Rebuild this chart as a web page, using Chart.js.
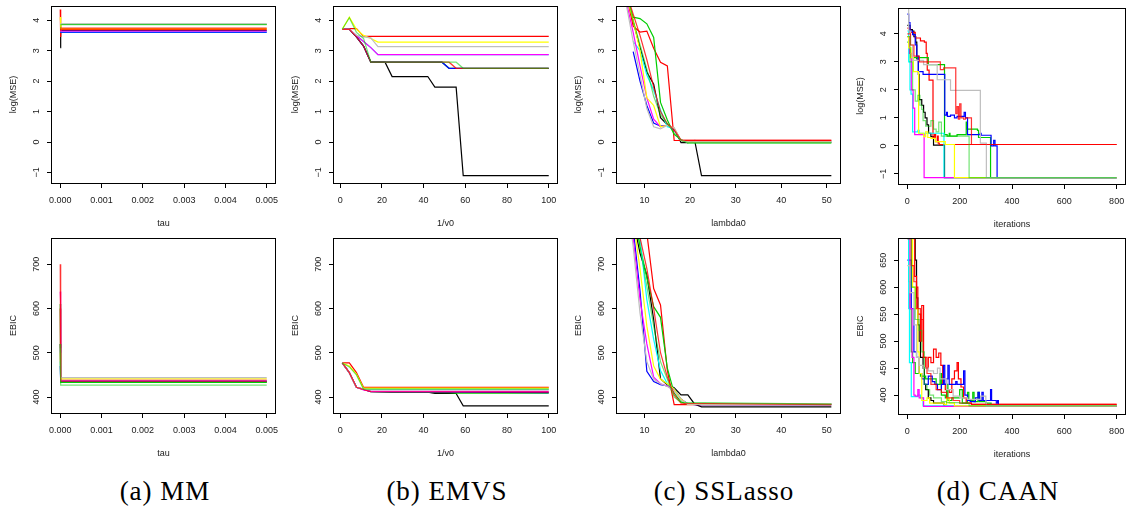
<!DOCTYPE html>
<html><head><meta charset="utf-8">
<script src="https://cdn.jsdelivr.net/npm/chart.js@4.4.1/dist/chart.umd.min.js"></script>
<style>
html,body{margin:0;padding:0;background:#fff;width:1127px;height:510px;overflow:hidden;position:relative}
.cap{position:absolute;top:476px;font-family:"Liberation Serif","DejaVu Serif",serif;font-size:27px;color:#000;white-space:nowrap;transform:translateX(-50%);letter-spacing:1px}
</style></head>
<body>
<div class="cap" style="left:165px">(a) MM</div>
<div class="cap" style="left:447px">(b) EMVS</div>
<div class="cap" style="left:724px">(c) SSLasso</div>
<div class="cap" style="left:998px">(d) CAAN</div>
<script>
// ---------- data ----------
// series colour order: black, red, green3, blue, cyan, magenta, yellow, gray, light red, light green
const COLORS = ['#000000','#FF0000','#00CD00','#0000FF','#00FFFF','#FF00FF','#FFFF00','#BEBEBE','rgba(255,0,0,0.8)','rgba(0,205,0,0.55)'];

const X_TICKS_TAU = [0,0.001,0.002,0.003,0.004,0.005];
const X_TICKS_V0 = [0,20,40,60,80,100];
const X_TICKS_LAMBDA = [10,20,30,40,50];
const X_TICKS_ITER = [0,200,400,600,800];
const Y_TICKS_MSE = [-1,0,1,2,3,4];
const Y_TICKS_EBIC = [400,500,600,700];
const Y_TICKS_EBIC_CAAN = [400,450,500,550,600,650];

const TAU = [0, 0.00001, 0.00002, 0.005];
const MM_MSE = [
  [3.10,3.66,3.66,3.66],
  [4.35,3.45,3.70,3.70],
  [3.72,3.86,3.86,3.86],
  [3.60,3.60,3.60,3.60],
  [3.62,3.62,3.62,3.62],
  [3.64,3.64,3.64,3.64],
  [4.10,3.90,3.72,3.72],
  [3.88,3.88,3.88,3.88],
  [3.74,3.74,3.74,3.74],
  [3.85,3.85,3.85,3.85]
];
const MM_EBIC = [
  [520,434,434,434],
  [600,435,435,435],
  [610,433,433,433],
  [470,436,436,436],
  [480,437,437,437],
  [638,611,438,438],
  [500,441,441,441],
  [510,444,444,444],
  [700,436,436,436],
  [520,427,427,427]
];

const EMVS_MSE = [
  [[1,3.7],[4.4,3.7],[7.8,3.45],[11.2,3.15],[14.7,2.62],[21.5,2.62],[24.9,2.15],[42,2.15],[45.4,1.8],[55.6,1.8],[59,-1.1],[100,-1.1]],
  [[1,3.72],[4.4,3.72],[7.8,3.72],[11.2,3.47],[100,3.47]],
  [[1,3.7],[4.4,3.7],[7.8,3.45],[11.2,3.15],[14.7,2.62],[48.8,2.62],[52.2,2.42],[100,2.42]],
  [[1,3.7],[4.4,3.7],[7.8,3.45],[11.2,3.15],[14.7,2.62],[48.8,2.62],[52.2,2.42],[100,2.42]],
  [[1,3.7],[4.4,3.7],[7.8,3.5],[11.2,3.3],[14.7,3.1],[18.1,2.87],[100,2.87]],
  [[1,3.7],[4.4,3.7],[7.8,3.5],[11.2,3.3],[14.7,3.1],[18.1,2.87],[100,2.87]],
  [[1,3.7],[4.4,4.1],[7.8,3.7],[11.2,3.5],[14.7,3.4],[18.1,3.28],[100,3.28]],
  [[1,3.7],[4.4,3.7],[7.8,3.5],[11.2,3.45],[14.7,3.42],[18.1,3.13],[100,3.13]],
  [[1,3.7],[4.4,3.7],[7.8,3.45],[11.2,3.15],[14.7,2.62],[52.2,2.62],[55.6,2.42],[100,2.42]],
  [[1,3.7],[4.4,4.08],[7.8,3.6],[11.2,3.4],[14.7,2.62],[55.6,2.62],[59,2.42],[100,2.42]]
];
const EMVS_EBIC = [
  [[1,477],[4.4,455],[7.8,422],[11.2,418],[14.7,413],[24.9,411],[42,411],[45.4,408],[55.6,408],[59,380],[100,380]],
  [[1,477],[4.4,477],[7.8,455],[11.2,422],[100,422]],
  [[1,477],[4.4,455],[7.8,422],[11.2,417],[14.7,412],[52.2,410],[55.6,409],[100,409]],
  [[1,477],[4.4,455],[7.8,422],[11.2,417],[14.7,412],[100,410]],
  [[1,477],[4.4,455],[7.8,422],[11.2,418],[100,418]],
  [[1,477],[4.4,455],[7.8,422],[11.2,416],[14.7,413],[100,413]],
  [[1,477],[4.4,470],[7.8,452],[11.2,420],[100,420]],
  [[1,477],[4.4,455],[7.8,422],[11.2,418],[14.7,416],[100,416]],
  [[1,477],[4.4,455],[7.8,422],[11.2,417],[14.7,412],[100,411]],
  [[1,477],[4.4,468],[7.8,450],[11.2,418],[100,418]]
];

const SSL_MSE = [
  [[6,4.9],[7.5,3.95],[9,3.1],[10.5,2.3],[12,1.9],[13.5,0.8],[15,0.57],[16.5,0.45],[18,-0.02],[19.5,-0.02],[21,0.05],[22.5,-1.1],[51,-1.1]],
  [[6,4.85],[7.5,3.8],[9,3.61],[10.5,3.64],[12,3.08],[13.5,2.62],[15,2.5],[16.5,0.05],[51,0.05]],
  [[6,4.8],[7.5,4.1],[9,4.05],[10.5,3.88],[12,3.43],[13.5,1.3],[15,0.72],[16.5,0.25],[18,0.08],[19.5,-0.03],[51,-0.03]],
  [[7.5,2.97],[9,2.0],[10.5,1.2],[12,0.62],[13.5,0.52],[15,0.55],[16.5,0.4],[18,0.05],[19.5,0.0],[51,0.0]],
  [[7.5,3.3],[9,3.0],[10.5,2.2],[12,1.7],[13.5,1.05],[15,0.5],[16.5,0.45],[18,0.05],[19.5,0.0],[51,0.0]],
  [[6,4.6],[7.5,3.6],[9,2.5],[10.5,1.45],[12,0.75],[13.5,0.5],[15,0.55],[16.5,0.45],[18,0.05],[19.5,0.0],[51,0.0]],
  [[6,4.8],[7.5,4.0],[9,3.0],[10.5,1.45],[12,1.2],[13.5,0.5],[15,0.55],[16.5,0.45],[18,0.05],[19.5,0.0],[51,0.0]],
  [[6,4.5],[7.5,3.3],[9,2.2],[10.5,1.1],[12,0.5],[13.5,0.43],[15,0.55],[16.5,0.45],[18,0.05],[19.5,0.0],[51,0.0]],
  [[6,4.9],[7.5,4.2],[9,3.5],[10.5,2.7],[12,1.8],[13.5,1.0],[15,0.6],[16.5,0.4],[18,0.06],[51,0.06]],
  [[6,4.9],[7.5,4.0],[9,3.2],[10.5,2.4],[12,1.5],[13.5,0.9],[15,0.6],[16.5,0.3],[18,0.05],[19.5,-0.02],[51,-0.02]]
];
const SSL_EBIC = [
  [[6,900],[7.5,800],[9,725],[10.5,675],[12,575],[13.5,441],[15,428],[16.5,421],[18,405],[19.5,405],[21,384],[22.5,378],[51,378]],
  [[6,920],[7.5,880],[9,830],[10.5,770],[12,645],[13.5,608],[15,460],[16.5,383],[51,383]],
  [[6,900],[7.5,820],[9,740],[10.5,670],[12,604],[13.5,580],[15,465],[16.5,409],[18,389],[19.5,384],[51,384]],
  [[6,900],[7.5,780],[9,640],[10.5,458],[12,435],[13.5,428],[15,425],[16.5,418],[18,395],[19.5,385],[21,383],[51,383]],
  [[6,920],[7.5,840],[9,760],[10.5,620],[12,530],[13.5,460],[15,430],[16.5,418],[18,395],[19.5,384],[51,384]],
  [[6,880],[7.5,760],[9,620],[10.5,520],[12,445],[13.5,430],[15,425],[16.5,415],[18,395],[19.5,384],[51,384]],
  [[6,900],[7.5,800],[9,690],[10.5,560],[12,470],[13.5,440],[15,430],[16.5,418],[18,395],[19.5,384],[51,384]],
  [[6,860],[7.5,740],[9,590],[10.5,480],[12,440],[13.5,430],[15,424],[16.5,414],[18,393],[19.5,384],[51,384]],
  [[6,920],[7.5,860],[9,760],[10.5,690],[12,600],[13.5,500],[15,445],[16.5,405],[18,386],[51,383]],
  [[6,920],[7.5,850],[9,740],[10.5,650],[12,560],[13.5,480],[15,440],[16.5,400],[18,388],[51,384]]
];

const CAAN_MSE = [
  [[0,4.3],[10,4.15],[19,4.1],[25,3.9],[32,3.7],[36,3.1],[42,2.55],[45,1.65],[55,1.45],[62,1.2],[68,1.0],[75,0.75],[81,0.45],[90,0.33],[100,0.03],[142,-1.13],[800,-1.13]],
  [[0,4.2],[10,4.05],[30,3.85],[50,3.75],[65,3.7],[72,3.3],[76,2.7],[83,2.35],[98,0.3],[104,0.4],[108,0.15],[115,0.35],[118,0.1],[122,0.05],[800,0.05]],
  [[0,3.7],[5,3.5],[12,3.15],[80,2.9],[142,0.4],[152,0.35],[160,0.45],[163,0.35],[190,0.4],[225,0.85],[228,0.6],[268,0.55],[272,0.3],[318,-1.13],[800,-1.13]],
  [[0,4.7],[5,4.4],[10,4.1],[20,3.97],[30,3.6],[36,3.2],[42,2.65],[60,2.55],[143,1.1],[150,1.2],[153,1.05],[165,1.1],[180,1.0],[190,1.05],[217,1.2],[222,1.0],[230,0.4],[278,0.45],[282,0.38],[320,0.0],[330,0.2],[335,0.0],[343,-1.13],[800,-1.13]],
  [[0,4.1],[5,3.0],[10,2.0],[14,1.85],[20,0.5],[40,0.55],[45,0.45],[140,-1.13],[800,-1.13]],
  [[0,3.9],[8,3.3],[15,2.0],[22,1.35],[28,0.4],[64,-1.13],[800,-1.13]],
  [[0,3.9],[5,3.5],[14,3.15],[23,2.65],[43,0.45],[62,0.33],[70,0.5],[78,0.3],[90,0.27],[107,0.15],[145,0.05],[180,-1.13],[800,-1.13]],
  [[0,5.2],[5,4.1],[12,3.6],[20,3.05],[62,2.9],[114,2.36],[165,1.98],[279,0.1],[302,-1.13],[800,-1.13]],
  [[0,4.0],[12,3.6],[25,3.2],[46,3.0],[126,2.72],[139,2.78],[185,1.15],[190,1.4],[195,0.95],[200,1.5],[205,1.0],[215,0.95],[222,1.0],[245,0.05],[800,0.05]],
  [[0,3.9],[10,3.0],[20,2.0],[30,1.6],[40,1.8],[48,1.45],[55,1.3],[60,0.9],[70,0.7],[90,0.9],[100,0.6],[110,0.5],[120,0.85],[130,0.35],[225,0.35],[236,-1.13],[800,-1.13]]
];
const CAAN_EBIC = [
  [[0,720],[20,700],[30,650],[35,580],[40,530],[45,500],[50,470],[60,450],[65,420],[70,410],[80,395],[90,390],[100,385],[140,379],[800,379]],
  [[0,700],[20,690],[28,620],[35,600],[40,550],[50,500],[55,566],[62,470],[70,450],[80,470],[90,460],[100,485],[110,470],[120,478],[128,455],[135,420],[145,410],[160,405],[170,430],[180,445],[190,460],[195,430],[205,415],[215,395],[225,385],[245,383],[800,383]],
  [[0,700],[5,610],[10,560],[15,480],[20,460],[30,440],[50,435],[70,430],[90,430],[110,420],[125,440],[130,400],[145,395],[150,420],[155,390],[170,395],[190,395],[200,410],[210,385],[230,405],[235,390],[250,405],[255,388],[270,405],[275,388],[300,385],[320,380],[800,380]],
  [[0,650],[15,560],[25,480],[35,470],[45,440],[55,430],[65,420],[80,435],[95,425],[105,420],[115,410],[130,420],[138,455],[143,420],[150,430],[155,455],[160,420],[175,420],[185,425],[190,420],[215,445],[220,400],[230,390],[240,388],[260,395],[270,405],[275,390],[285,405],[290,390],[310,390],[318,410],[322,390],[340,385],[345,390],[348,380],[800,380]],
  [[0,720],[5,560],[8,460],[15,397],[40,400],[50,395],[60,380],[800,380]],
  [[0,690],[10,560],[18,470],[25,400],[30,398],[40,410],[45,395],[62,379],[800,379]],
  [[0,700],[20,600],[30,560],[40,480],[45,440],[55,390],[75,395],[85,385],[140,383],[150,395],[160,385],[180,380],[800,380]],
  [[0,640],[10,590],[25,530],[35,470],[45,455],[60,450],[80,445],[100,440],[115,450],[125,430],[150,410],[175,398],[200,395],[230,392],[250,392],[280,398],[300,385],[302,380],[800,380]],
  [[0,690],[15,640],[25,610],[35,560],[50,540],[60,470],[75,440],[90,420],[110,410],[130,405],[150,395],[175,390],[200,385],[245,383],[800,383]],
  [[0,690],[15,600],[30,540],[45,520],[55,480],[65,420],[75,410],[85,400],[100,395],[120,395],[130,388],[150,386],[200,385],[236,380],[800,380]]
];

// ---------- drawing ----------
const FONT = '"Liberation Sans", Arial, sans-serif';
const FS = 9;
function fmtY(v){ return v < 0 ? '\u2212' + Math.abs(v) : String(v); }

const boxPlugin = {
  id: 'rbox',
  afterDatasetsDraw(chart){
    const {ctx, chartArea: a} = chart;
    ctx.save();
    ctx.strokeStyle = '#000';
    ctx.lineWidth = 1;
    ctx.strokeRect(Math.round(a.left) - 0.5, Math.round(a.top) + 0.5, Math.round(a.right - a.left) + 1, Math.round(a.bottom - a.top));
    ctx.restore();
  }
};
// vertical (R-style, las=0) tick labels on the y scale, placed from the scale's own ticks
const yLabelPlugin = {
  id: 'ylab',
  afterDraw(chart){
    const s = chart.scales.y;
    const ctx = chart.ctx;
    ctx.save();
    ctx.font = FS + 'px ' + FONT;
    ctx.fillStyle = '#1a1a1a';
    ctx.textAlign = 'center';
    ctx.textBaseline = 'middle';
    s.ticks.forEach(t => {
      const y = s.getPixelForValue(t.value);
      ctx.save();
      ctx.translate(s.right - 15.5, y);
      ctx.rotate(-Math.PI / 2);
      ctx.fillText(fmtY(t.value), 0, 0);
      ctx.restore();
    });
    ctx.restore();
  }
};

function build(p){
  const CL = p.box.L - 52;
  const CW = p.box.R + 12 - CL;
  const CH = p.cb - p.ct;
  const cv = document.createElement('canvas');
  cv.width = CW; cv.height = CH;
  cv.style.cssText = 'position:absolute;left:' + CL + 'px;top:' + p.ct + 'px;width:' + CW + 'px;height:' + CH + 'px';
  document.body.appendChild(cv);
  const datasets = p.series.map((pts, i) => ({
    data: pts.map(q => ({x: q[0], y: q[1]})),
    borderColor: COLORS[i], backgroundColor: COLORS[i],
    borderWidth: 1.2, pointRadius: 0, pointHoverRadius: 0, fill: false, tension: 0,
    stepped: p.stepped ? true : false, order: -i
  }));
  const tickFont = {family: FONT, size: FS};
  new Chart(cv, {
    type: 'line',
    data: {datasets},
    options: {
      responsive: false, animation: false, devicePixelRatio: 1,
      events: [],
      layout: {padding: {left: 0, top: p.box.T - p.ct, right: CW - (p.box.R - CL), bottom: 0}},
      plugins: {legend: {display: false}, tooltip: {enabled: false}},
      scales: {
        x: {
          type: 'linear', min: p.xr[0], max: p.xr[1],
          afterBuildTicks: s => { s.ticks = p.xt.map(v => ({value: v})); },
          afterFit: s => { s.height = p.cb - p.box.B; s.paddingLeft = 0; s.paddingRight = 0; },
          grid: {drawOnChartArea: false, drawTicks: true, tickLength: 5, color: '#000', lineWidth: 1},
          border: {display: false},
          ticks: {autoSkip: false, minRotation: 0, maxRotation: 0, padding: 7, color: '#1a1a1a', font: tickFont, callback: v => p.xfmt(v)},
          title: {display: true, text: p.xTitle, color: '#1a1a1a', font: tickFont, padding: {top: 0, bottom: (p.cb - p.box.B) - 40.5 - FS * 0.6}}
        },
        y: {
          type: 'linear', min: p.yr[0], max: p.yr[1],
          afterBuildTicks: s => { s.ticks = p.yt.map(v => ({value: v})); },
          afterFit: s => { s.width = 52; s.paddingTop = 0; s.paddingBottom = 0; },
          grid: {drawOnChartArea: false, drawTicks: true, tickLength: 5, color: '#000', lineWidth: 1},
          border: {display: false},
          ticks: {display: false, autoSkip: false, font: tickFont, callback: v => fmtY(v)},
          title: {display: true, text: p.yTitle, color: '#1a1a1a', font: tickFont, padding: {top: 52 - 38.5 - FS * 0.6, bottom: 0}}
        }
      }
    },
    plugins: [boxPlugin, yLabelPlugin]
  });
}

function pairs(xs, ys){ return ys.map(row => row.map((y, j) => [xs[j], y])); }
const fmt3 = v => v.toFixed(3);
const fmt0 = v => String(v);
const MSE_RANGE = [-1.345, 4.465];
const EBIC_RANGE = [364, 759];

build({box:{L:52,R:275,T:6,B:183}, ct:0, cb:232, xr:[-0.0002,0.0052], yr:MSE_RANGE, xt:X_TICKS_TAU, yt:Y_TICKS_MSE, xfmt:fmt3, xTitle:'tau', yTitle:'log(MSE)', series:pairs(TAU, MM_MSE)});
build({box:{L:334,R:557,T:6,B:183}, ct:0, cb:232, xr:[-2.96,103.96], yr:MSE_RANGE, xt:X_TICKS_V0, yt:Y_TICKS_MSE, xfmt:fmt0, xTitle:'1/v0', yTitle:'log(MSE)', series:EMVS_MSE});
build({box:{L:617,R:840,T:6,B:183}, ct:0, cb:232, xr:[3.95,52.9], yr:MSE_RANGE, xt:X_TICKS_LAMBDA, yt:Y_TICKS_MSE, xfmt:fmt0, xTitle:'lambda0', yTitle:'log(MSE)', series:SSL_MSE});
build({box:{L:899,R:1125,T:8,B:184}, ct:0, cb:232, xr:[-32,832], yr:[-1.36,4.92], xt:X_TICKS_ITER, yt:Y_TICKS_MSE, xfmt:fmt0, xTitle:'iterations', yTitle:'log(MSE)', series:CAAN_MSE, stepped:true});

build({box:{L:52,R:275,T:238,B:413}, ct:232, cb:465, xr:[-0.0002,0.0052], yr:EBIC_RANGE, xt:X_TICKS_TAU, yt:Y_TICKS_EBIC, xfmt:fmt3, xTitle:'tau', yTitle:'EBIC', series:pairs(TAU, MM_EBIC)});
build({box:{L:334,R:557,T:238,B:413}, ct:232, cb:465, xr:[-2.96,103.96], yr:EBIC_RANGE, xt:X_TICKS_V0, yt:Y_TICKS_EBIC, xfmt:fmt0, xTitle:'1/v0', yTitle:'EBIC', series:EMVS_EBIC});
build({box:{L:617,R:840,T:238,B:413}, ct:232, cb:465, xr:[3.95,52.9], yr:EBIC_RANGE, xt:X_TICKS_LAMBDA, yt:Y_TICKS_EBIC, xfmt:fmt0, xTitle:'lambda0', yTitle:'EBIC', series:SSL_EBIC});
build({box:{L:899,R:1125,T:238,B:414}, ct:232, cb:465, xr:[-32,832], yr:[365,691], xt:X_TICKS_ITER, yt:Y_TICKS_EBIC_CAAN, xfmt:fmt0, xTitle:'iterations', yTitle:'EBIC', series:CAAN_EBIC, stepped:true});
</script>
</body></html>
